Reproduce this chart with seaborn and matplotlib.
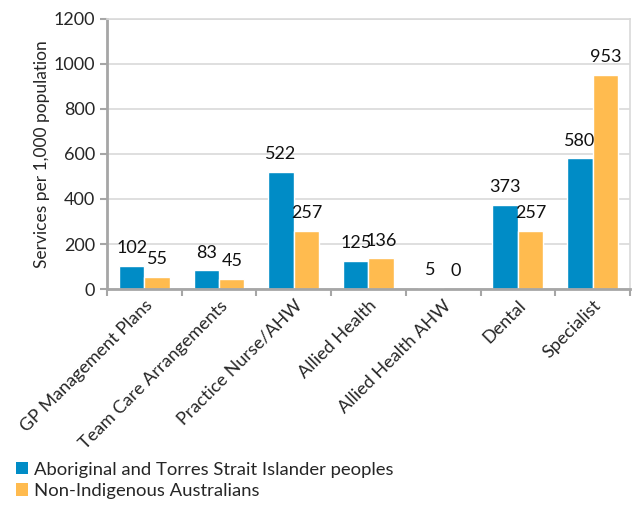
import numpy as np
import pandas as pd
import matplotlib.pyplot as plt
import seaborn as sns
from matplotlib.patches import Patch

categories = ["GP Management Plans", "Team Care Arrangements", "Practice Nurse/AHW",
              "Allied Health", "Allied Health AHW", "Dental", "Specialist"]
indigenous = [102, 83, 522, 125, 5, 373, 580]
non_indigenous = [55, 45, 257, 136, 0, 257, 953]
groups = ["Aboriginal and Torres Strait Islander peoples", "Non-Indigenous Australians"]
colors = ["#008CC6", "#FFBB4F"]

df = pd.DataFrame({
    "category": categories * 2,
    "value": indigenous + non_indigenous,
    "group": [groups[0]] * len(categories) + [groups[1]] * len(categories),
})

sns.set_style("white")
plt.rcParams["font.family"] = ["Lato", "DejaVu Sans"]

fig = plt.figure(figsize=(6.35, 5.12), dpi=100)
ax = fig.add_axes([0.1685, 0.4355, 0.8235, 0.5275])

sns.barplot(data=df, x="category", y="value", hue="group", palette=colors,
            width=0.68, saturation=1, ax=ax, legend=False)

for cont in ax.containers:
    ax.bar_label(cont, fmt="%d", padding=7, fontsize=13, color="#111111")

ax.set_ylim(0, 1200)
ax.set_yticks(range(0, 1201, 200))
ax.set_xlim(-0.5, 6.5)
ax.yaxis.grid(True, color="#d9d9d9", linewidth=1.2)
ax.set_axisbelow(True)

ax.set_xticks(np.arange(-0.5, 7, 1), minor=False)
ax.set_xticklabels([])
ax.set_xticks(range(7), minor=True)
ax.set_xticklabels(categories, minor=True, rotation=45, ha="right",
                   rotation_mode="anchor", fontsize=13)
ax.tick_params(axis="x", which="minor", length=0, pad=6)
ax.tick_params(axis="x", which="major", length=5, width=1.5, color="#a6a6a6", direction="out")
ax.tick_params(axis="y", length=5, width=1.5, color="#a6a6a6", direction="out", labelsize=13)
ax.tick_params(bottom=True, left=True)

ax.set_xlabel("")
ax.set_ylabel("Services per 1,000 population", fontsize=12.5, labelpad=3)

ax.spines["left"].set_color("#a6a6a6")
ax.spines["left"].set_linewidth(2)
ax.spines["bottom"].set_color("#a6a6a6")
ax.spines["bottom"].set_linewidth(2)
for s in ["top", "right"]:
    ax.spines[s].set_color("#d9d9d9")
    ax.spines[s].set_linewidth(1.2)

handles = [Patch(facecolor=c, edgecolor="none") for c in colors]
fig.legend(handles, groups, loc="lower left", bbox_to_anchor=(0.005, 0.0),
           frameon=False, fontsize=13.3, handlelength=0.65, handleheight=0.65,
           handletextpad=0.3, labelspacing=0.3, borderaxespad=0.3)

fig.savefig("out.png", dpi=100)
